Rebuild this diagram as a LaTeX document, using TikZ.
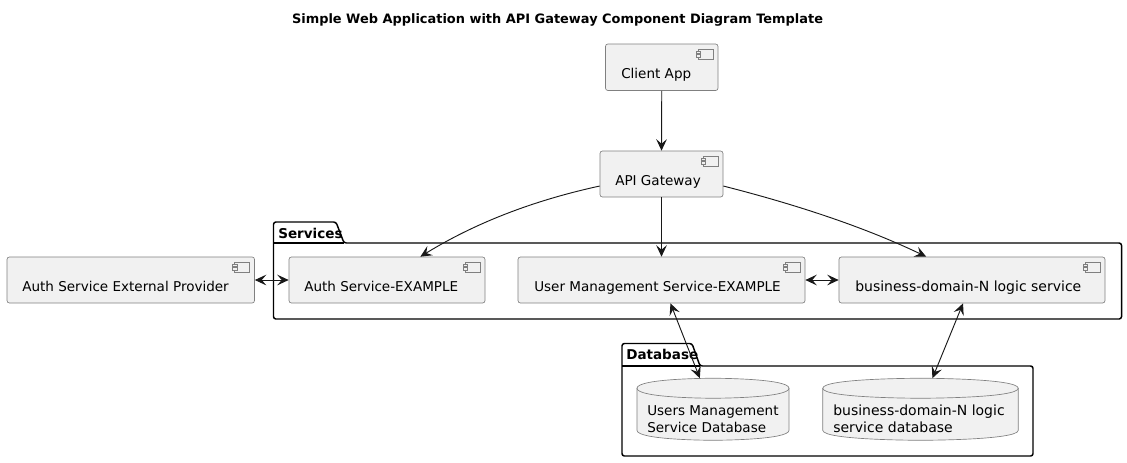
\documentclass[tikz,border=0pt]{standalone}
\usepackage{fontspec}
\setmainfont{DejaVu Sans}
\usepackage{xcolor}
\usetikzlibrary{arrows.meta, calc}

\definecolor{boxfill}{HTML}{F1F1F1}
\definecolor{inkline}{HTML}{181818}

\tikzset{
    comp/.style={draw=inkline!55, line width=0.5pt, fill=boxfill, rounded corners=1.8pt, inner sep=0pt, minimum height=46*0.75pt},
    dbase/.style={inner sep=0pt, minimum height=61.5*0.75pt},
    dbline/.style={draw=inkline!55, line width=0.5pt, fill=boxfill},
    pkgframe/.style={draw=black, line width=1.1pt, rounded corners=1.8pt},
    conn/.style={inkline, line width=0.7pt, -{Stealth[length=8.6pt, width=8pt, inset=3.4pt]}},
    bothconn/.style={inkline, line width=0.7pt, {Stealth[length=8.6pt, width=8pt, inset=3.4pt]}-{Stealth[length=8.6pt, width=8pt, inset=3.4pt]}},
    icon/.style={draw=inkline!55, line width=0.4pt, fill=boxfill, rounded corners=0pt},
    lbl/.style={font=\fontsize{10.15pt}{12.45pt}\selectfont, text=black, anchor=base west, inner sep=0pt, align=left},
    widelbl/.style={lbl, font=\fontsize{10.5pt}{12.45pt}\selectfont},
    pkglbl/.style={font=\fontsize{10.15pt}{12.45pt}\bfseries\selectfont, text=black, inner sep=0pt, anchor=base west}
}

\begin{document}
\begin{tikzpicture}[x=0.75pt, y=-0.75pt]
    \useasboundingbox (0,0) rectangle (1127,462);

    % Title
    \node[font=\fontsize{9.7pt}{12pt}\bfseries\selectfont, anchor=base] (title) at (557.5,23) {Simple Web Application with API Gateway Component Diagram Template};

    % Services package
    \draw[pkgframe] (273.5,243) -- (273.5,222) -- (336,222) -- (344,243) -- (1121.5,243) -- (1121.5,319) -- (273.5,319) -- cycle;
    \draw[pkgframe, rounded corners=0pt] (273.5,243) -- (344,243);
    \node[pkglbl] (serviceslbl) at (278,238.3) {Services};

    % Database package
    \draw[pkgframe] (622,366) -- (622,343.5) -- (692,343.5) -- (700,366) -- (1033,366) -- (1033,456) -- (622,456) -- cycle;
    \draw[pkgframe, rounded corners=0pt] (622,366) -- (700,366);
    \node[pkglbl] (databaselbl) at (626,359.3) {Database};

    % Components
    \node[comp, minimum width=112.5*0.75pt, minimum height=46.5*0.75pt] (client) at (661.75,67.25) {};
    \node[comp, minimum width=123*0.75pt] (gateway) at (661.5,174) {};
    \node[comp, minimum width=247.5*0.75pt] (authext) at (130.75,280) {};
    \node[comp, minimum width=196*0.75pt] (auth) at (387,280) {};
    \node[comp, minimum width=287*0.75pt] (user) at (661.5,280) {};
    \node[comp, minimum width=266*0.75pt] (business) at (972,280) {};

    % Component labels
    \node[lbl] (clientlbl) at (621,78) {Client App};
    \node[lbl] (gatewaylbl) at (615,185) {API Gateway};
    \node[lbl] (authextlbl) at (22,291.5) {Auth Service External Provider};
    \node[lbl] (authlbl) at (304,291.5) {Auth Service-EXAMPLE};
    \node[lbl] (userlbl) at (534,291.5) {User Management Service-EXAMPLE};
    \node[widelbl] (businesslbl) at (855,291.5) {business-domain-N logic service};

    % Component icons
    \foreach \n in {client,gateway,authext,auth,user,business} {
        \draw[icon] ($(\n.north east)+(-20.3,5.3)$) rectangle ($(\n.north east)+(-5.3,15.3)$);
        \draw[icon] ($(\n.north east)+(-22.3,7.5)$) rectangle ($(\n.north east)+(-18,10)$);
        \draw[icon] ($(\n.north east)+(-22.3,11)$) rectangle ($(\n.north east)+(-18,13.5)$);
    }

    % Databases
    \node[dbase, minimum width=151.5*0.75pt] (usersdb) at (713,409.25) {};
    \node[dbase, minimum width=195*0.75pt] (businessdb) at (920.5,409.25) {};
    \foreach \n in {usersdb,businessdb} {
        \draw[dbline] ($(\n.north west)+(0,10)$) .. controls ($(\n.north west)$) and (\n.north) .. (\n.north)
            .. controls (\n.north) and ($(\n.north east)$) .. ($(\n.north east)+(0,10)$)
            -- ($(\n.south east)+(0,-10)$) .. controls (\n.south east) and (\n.south) .. (\n.south)
            .. controls (\n.south) and (\n.south west) .. ($(\n.south west)+(0,-10)$) -- cycle;
        \draw[dbline, fill=none] ($(\n.north west)+(0,10)$) .. controls ($(\n.north west)+(0,20)$) and ($(\n.north)+(0,20)$) .. ($(\n.north)+(0,20)$)
            .. controls ($(\n.north)+(0,20)$) and ($(\n.north east)+(0,20)$) .. ($(\n.north east)+(0,10)$);
    }
    \node[lbl] (usersdblbl) at (647,432.3) {Users Management\\Service Database};
    \node[widelbl] (businessdblbl) at (833,432.3) {business-domain-N logic\\service database};

    % Connectors
    \draw[conn] (client.south) -- (gateway.north);
    \draw[conn] (gateway.south) -- (user.north);
    \draw[conn] (gateway.191) .. controls (540,199) and (480,220) .. (auth.35);
    \draw[conn] (gateway.349) .. controls (790,203) and (860,225) .. (business.153);
    \draw[bothconn] (authext.east) -- (auth.west);
    \draw[bothconn] (user.east) -- (business.west);
    \draw[bothconn] (user.-69) -- (usersdb.113);
    \draw[bothconn] (business.-111) -- (businessdb.69.5);
\end{tikzpicture}
\end{document}
